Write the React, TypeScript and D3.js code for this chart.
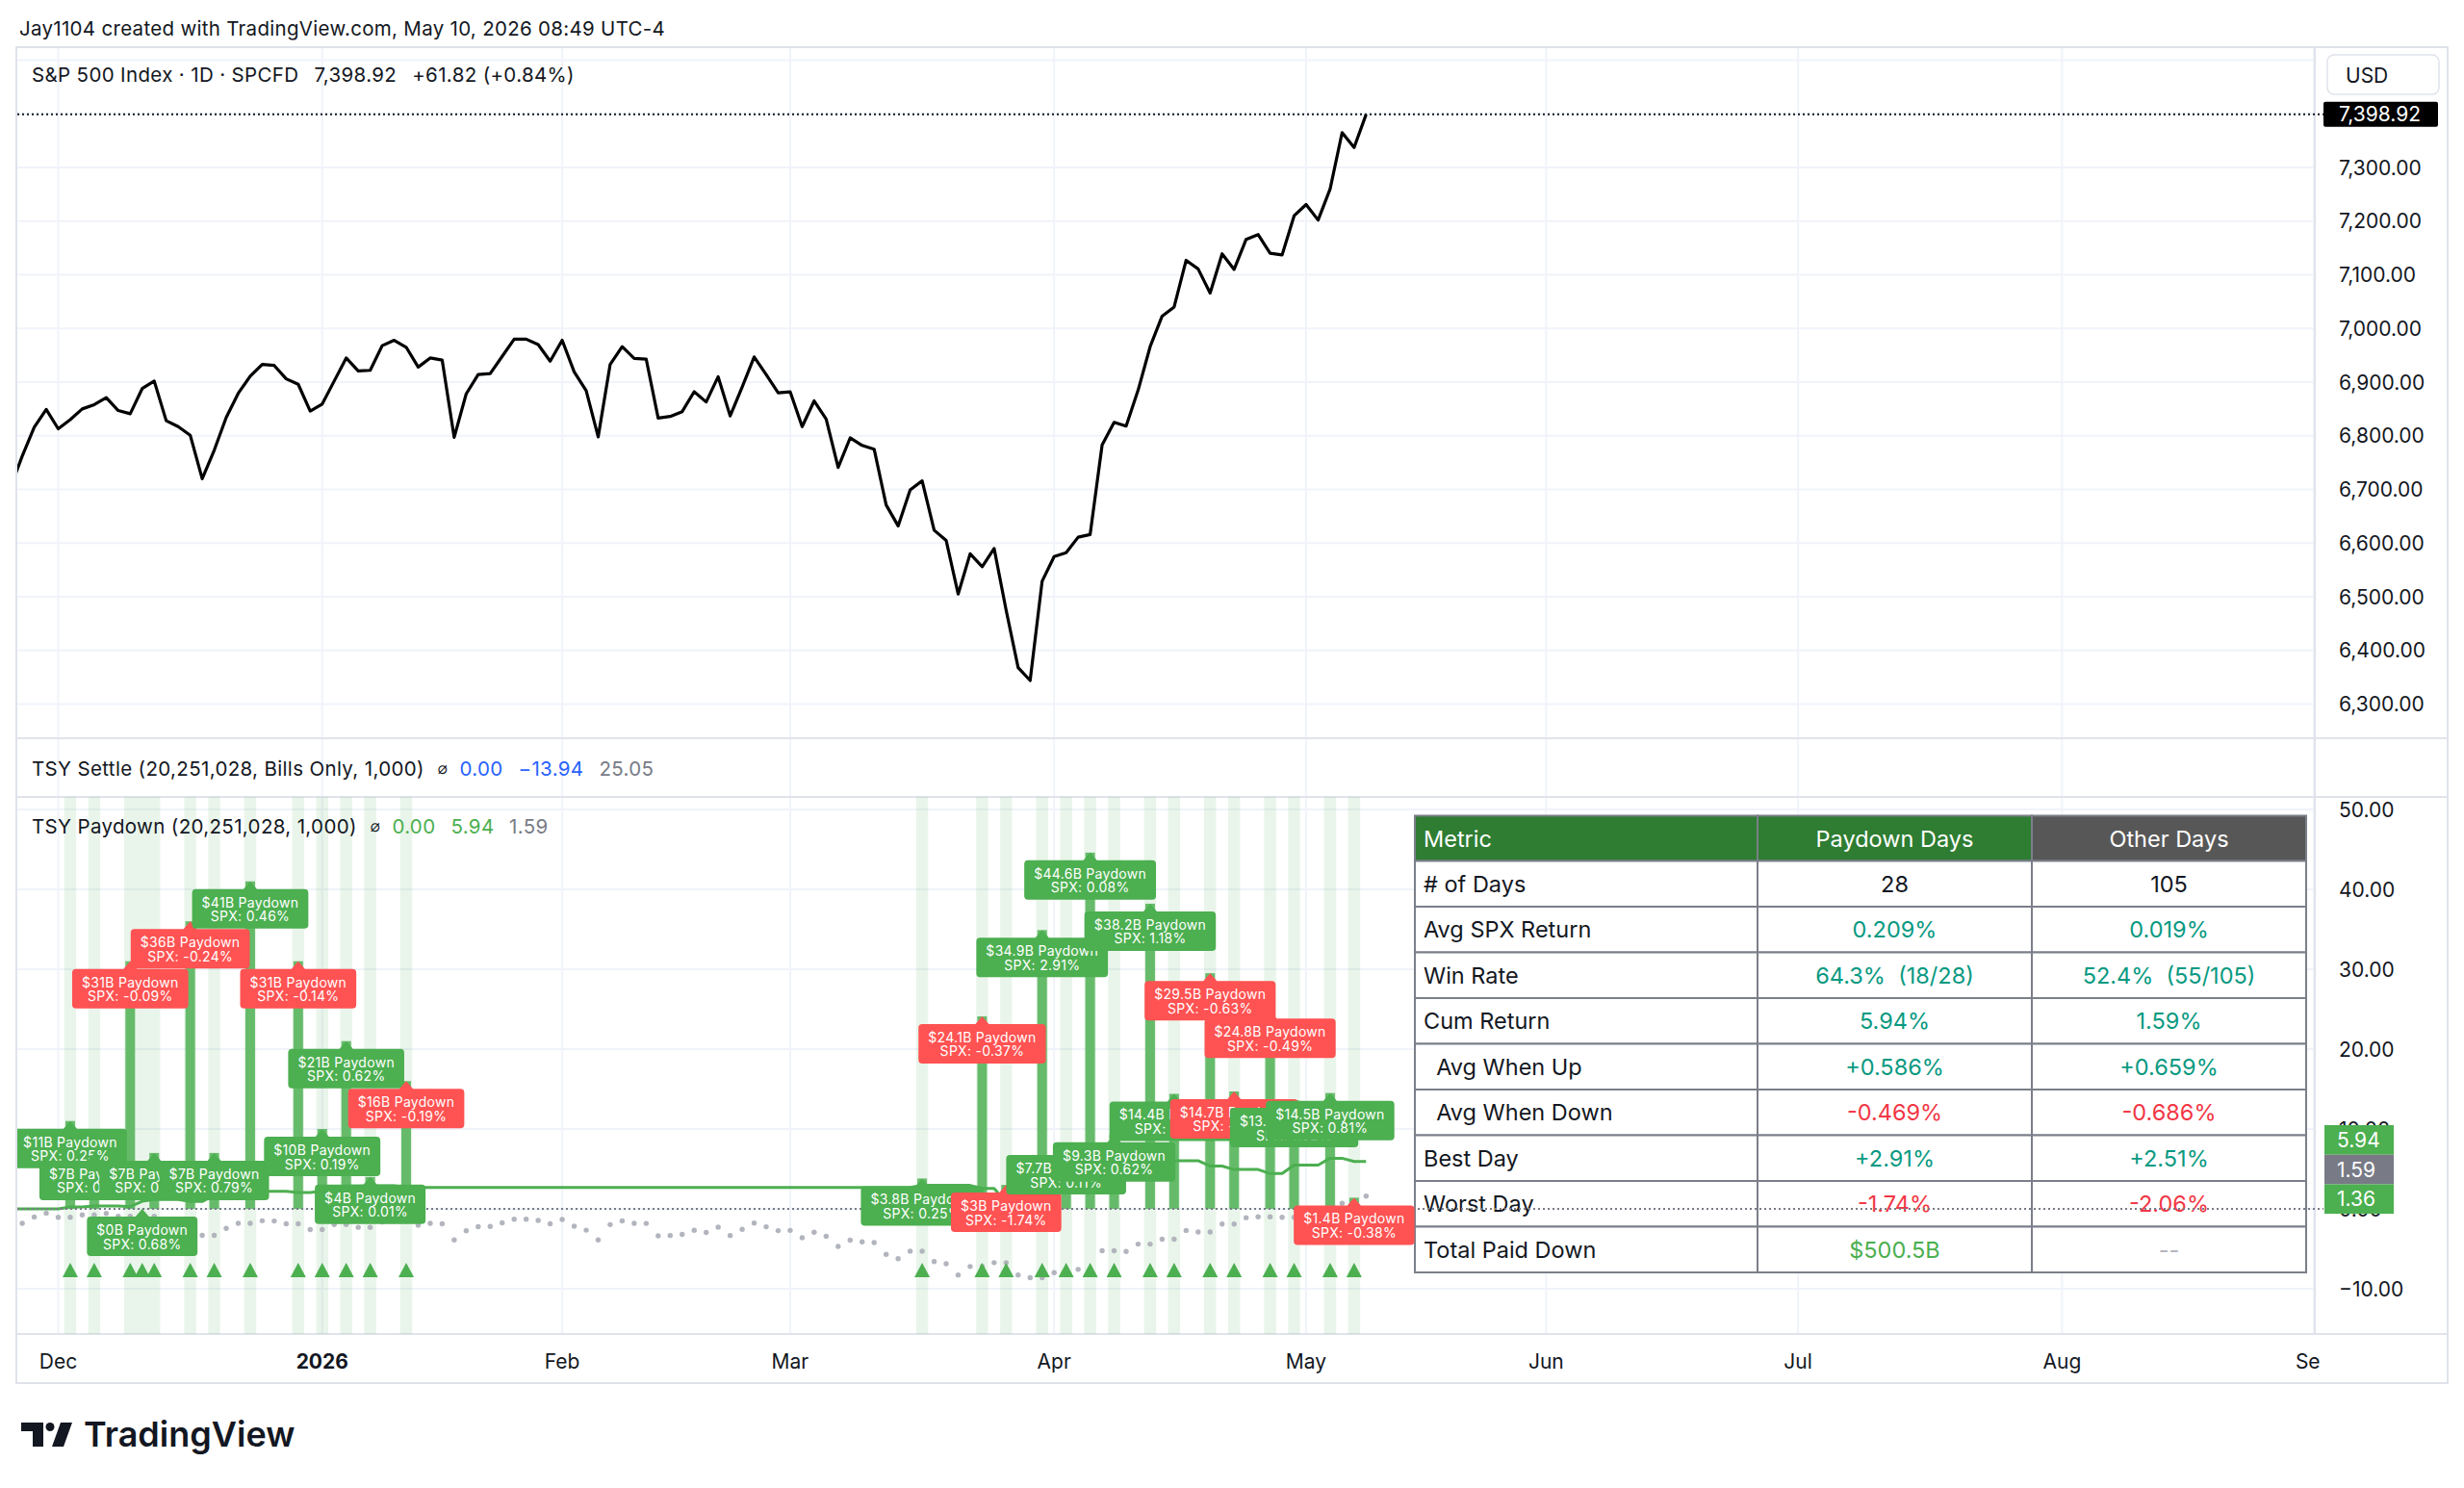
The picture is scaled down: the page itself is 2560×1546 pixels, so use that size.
import * as d3 from "d3";
import { useEffect, useRef } from "react";

const W = 2560;
const H = 1546;

// trading-day index: 0 = Dec 1 2025, first value is Nov 24 2025
const spxFirstBar = -4;
const spxClose = [
  6703, 6762, 6816, 6849,
  6813, 6830, 6850, 6858, 6871, 6847, 6841, 6888, 6902, 6828,
  6817, 6801, 6720, 6773, 6834, 6879, 6911, 6933, 6931, 6906,
  6896, 6846, 6859, 6902, 6945, 6921, 6922, 6968, 6978, 6965,
  6928, 6945, 6941, 6797, 6878, 6914, 6916, 6948, 6980, 6980,
  6970, 6939, 6978, 6919, 6884, 6798, 6933, 6966, 6944, 6943,
  6833, 6836, 6845, 6882, 6863, 6910, 6837, 6891, 6947, 6914,
  6880, 6882, 6817, 6865, 6831, 6741, 6796, 6782, 6775, 6671,
  6632, 6699, 6716, 6624, 6605, 6505, 6580, 6556, 6590, 6475,
  6368, 6344, 6529, 6575, 6582, 6611, 6616, 6783, 6825, 6818,
  6885, 6966, 7023, 7040, 7127, 7111, 7066, 7139, 7110, 7166,
  7175, 7140, 7137, 7210, 7231, 7202, 7260, 7365, 7337.1, 7398.92,
];

// cumulative SPX return (%) on non-paydown days, per bar
const otherCum = [
  -2.66, -1.8, -1.01, -0.53,
  -1.05, -1.05, -0.76, -0.76, -0.57, -0.92, -0.92, -0.92, -0.92, -1.98,
  -2.14, -2.14, -3.31, -3.31, -2.44, -1.8, -1.8, -1.49, -1.52, -1.87,
  -1.87, -2.59, -2.59, -1.97, -1.97, -2.31, -2.31, -1.66, -1.52, -1.52,
  -2.04, -1.8, -1.86, -3.89, -2.74, -2.23, -2.2, -1.75, -1.3, -1.3,
  -1.44, -1.87, -1.32, -2.16, -2.66, -3.88, -1.97, -1.5, -1.81, -1.82,
  -3.37, -3.33, -3.2, -2.68, -2.95, -2.29, -3.33, -2.56, -1.77, -2.24,
  -2.72, -2.69, -3.61, -2.93, -3.42, -4.7, -3.92, -4.12, -4.22, -5.69,
  -6.24, -5.29, -5.29, -6.59, -6.86, -8.27, -7.21, -7.21, -6.73, -6.73,
  -8.27, -8.62, -8.62, -7.98, -7.98, -7.57, -7.57, -5.24, -5.24, -5.34,
  -4.41, -4.41, -3.8, -3.8, -2.7, -2.9, -2.9, -1.9, -1.9, -1.1,
  -1.0, -1.0, -1.05, -1.05, -0.65, -0.95, -0.95, 0.7, 0.7, 1.59,
];

// paydown events
const paydownBars = [1, 3, 6, 7, 8, 11, 13, 16, 20, 22, 24, 26, 29, 72, 77, 79, 82, 84, 86, 88, 91, 93, 96, 98, 101, 103, 106, 108];
const paydownAmounts = [11, 7, 31, 0, 7, 36, 7, 41, 31, 10, 21, 4, 16, 3.8, 24.1, 3, 34.9, 7.7, 44.6, 9.3, 38.2, 14.4, 29.5, 14.7, 24.8, 13.6, 14.5, 1.4];
const paydownSpx = [0.25, 0.12, -0.09, 0.68, 0.2, -0.24, 0.79, 0.46, -0.14, 0.19, 0.62, 0.01, -0.19, 0.25, -0.37, -1.74, 2.91, 0.11, 0.08, 0.62, 1.18, 0.24, -0.63, -0.41, -0.49, 1.02, 0.81, -0.38];
// cumulative SPX return (%) on paydown days, after each event
const paydownCum = [0.25, 0.37, 0.28, 0.96, 1.16, 0.92, 1.72, 2.19, 2.05, 2.24, 2.87, 2.88, 2.68, 2.94, 2.56, 0.78, 3.71, 3.82, 3.9, 4.55, 5.78, 6.03, 5.36, 4.93, 4.42, 5.49, 6.34, 5.94];

const monthLabels = ["Dec", "2026", "Feb", "Mar", "Apr", "May", "Jun", "Jul", "Aug", "Sep"];
const monthBars = [0, 22, 42, 61, 83, 104, 124, 145, 167, 188];

const priceTicks = [6300, 6400, 6500, 6600, 6700, 6800, 6900, 7000, 7100, 7200, 7300];
const priceGrid = [6300, 6400, 6500, 6600, 6700, 6800, 6900, 7000, 7100, 7200, 7300, 7400, 7500];
const paydownTicks = [-10, 0, 10, 20, 30, 40, 50];

const tableHeader = ["Metric", "Paydown Days", "Other Days"];
const tableMetrics = ["# of Days", "Avg SPX Return", "Win Rate", "Cum Return", "  Avg When Up", "  Avg When Down", "Best Day", "Worst Day", "Total Paid Down"];
const tablePaydown = ["28", "0.209%", "64.3%  (18/28)", "5.94%", "+0.586%", "-0.469%", "+2.91%", "-1.74%", "$500.5B"];
const tableOther = ["105", "0.019%", "52.4%  (55/105)", "1.59%", "+0.659%", "-0.686%", "+2.51%", "-2.06%", "--"];
const tablePaydownColor = ["#131722", "#089981", "#089981", "#089981", "#089981", "#f23645", "#089981", "#f23645", "#4caf50"];
const tableOtherColor = ["#131722", "#089981", "#089981", "#089981", "#089981", "#f23645", "#089981", "#f23645", "#b2b5be"];

const lastPrice = 7398.92;
const axisBoxes = [
  { text: "5.94", color: "#4caf50" },
  { text: "1.59", color: "#787b86" },
  { text: "1.36", color: "#4caf50" },
];

const FONT = "Inter, 'Noto Sans', sans-serif";

function drawChart(el: SVGSVGElement) {
  const svg = d3.select(el);
  svg.selectAll("*").remove();

  const left = 18;
  const right = 2405;
  const topPane = [49, 767];
  const payPane = [828, 1386];

  const x = d3.scaleLinear().domain([0, 104]).range([60.5, 1357]);
  const yP = d3.scaleLinear().domain([6300, 7300]).range([731.5, 174]);
  const yD = d3.scaleLinear().domain([-10, 50]).range([1339, 841]);
  const bw = x(1) - x(0);

  svg.append("rect").attr("width", W).attr("height", H).attr("fill", "#fff");

  const defs = svg.append("defs");
  defs.append("clipPath").attr("id", "clipTop").append("rect")
    .attr("x", left).attr("y", topPane[0]).attr("width", right - left).attr("height", topPane[1] - topPane[0]);
  defs.append("clipPath").attr("id", "clipPay").append("rect")
    .attr("x", left).attr("y", payPane[0]).attr("width", right - left).attr("height", payPane[1] - payPane[0]);
  defs.append("clipPath").attr("id", "clipTime").append("rect")
    .attr("x", left).attr("y", payPane[1]).attr("width", right - left + 6).attr("height", 60);

  // header
  svg.append("text")
    .attr("x", 20).attr("y", 29).attr("dominant-baseline", "central")
    .attr("font-family", FONT).attr("font-size", 20.5).attr("letter-spacing", 0.3).attr("fill", "#131722")
    .text("Jay1104 created with TradingView.com, May 10, 2026 08:49 UTC-4");

  // grid
  const grid = svg.append("g").attr("stroke", "#f0f3fa").attr("stroke-width", 2);
  grid.selectAll("line.v").data(monthBars).join("line")
    .attr("x1", d => x(d)).attr("x2", d => x(d)).attr("y1", topPane[0]).attr("y2", payPane[1])
    .attr("clip-path", "url(#clipTop)");
  grid.selectAll("line.v2").data(monthBars).join("line")
    .attr("x1", d => x(d)).attr("x2", d => x(d)).attr("y1", topPane[1]).attr("y2", payPane[1]);
  grid.selectAll("line.hp").data(priceGrid).join("line")
    .attr("x1", left).attr("x2", right).attr("y1", d => yP(d)).attr("y2", d => yP(d));
  grid.selectAll("line.hd").data(paydownTicks).join("line")
    .attr("x1", left).attr("x2", right).attr("y1", d => yD(d)).attr("y2", d => yD(d));

  // frame and pane separators
  const frame = svg.append("g").attr("stroke", "#e0e3eb").attr("fill", "none").attr("stroke-width", 2);
  frame.append("rect").attr("x", 17).attr("y", 49).attr("width", 2543 - 17).attr("height", 1437 - 49);
  frame.append("line").attr("x1", right).attr("x2", right).attr("y1", 49).attr("y2", payPane[1]);
  [767, 828, payPane[1]].forEach(y => {
    frame.append("line").attr("x1", 17).attr("x2", 2543).attr("y1", y).attr("y2", y);
  });

  // ---- top pane: S&P 500
  const top = svg.append("g").attr("clip-path", "url(#clipTop)");
  const priceLine = d3.line<number>()
    .x((_, k) => x(spxFirstBar + k))
    .y(d => yP(d));
  top.append("path")
    .attr("d", priceLine(spxClose))
    .attr("fill", "none").attr("stroke", "#000").attr("stroke-width", 3.2)
    .attr("stroke-linejoin", "round");
  svg.append("line")
    .attr("x1", left).attr("x2", 2414).attr("y1", yP(lastPrice)).attr("y2", yP(lastPrice))
    .attr("stroke", "#131722").attr("stroke-width", 2).attr("stroke-dasharray", "2 3");

  svg.append("text")
    .attr("x", 33).attr("y", 77).attr("dominant-baseline", "central")
    .attr("font-family", FONT).attr("font-size", 20.5).attr("letter-spacing", 0.35).attr("fill", "#131722")
    .call(t => {
      t.append("tspan").text("S&P 500 Index · 1D · SPCFD");
      t.append("tspan").attr("dx", 16).text("7,398.92");
      t.append("tspan").attr("dx", 16).text("+61.82 (+0.84%)");
    });

  // ---- settle pane legend
  svg.append("text")
    .attr("x", 33).attr("y", 798).attr("dominant-baseline", "central")
    .attr("font-family", FONT).attr("font-size", 20.5).attr("letter-spacing", 0.35).attr("fill", "#131722")
    .call(t => {
      t.append("tspan").text("TSY Settle (20,251,028, Bills Only, 1,000)");
      t.append("tspan").attr("dx", 14).attr("font-family", "DejaVu Sans").attr("font-size", 17).text("⌀");
      t.append("tspan").attr("dx", 12).attr("fill", "#2962ff").text("0.00");
      t.append("tspan").attr("dx", 16).attr("fill", "#2962ff").text("−13.94");
      t.append("tspan").attr("dx", 16).attr("fill", "#787b86").text("25.05");
    });

  // ---- paydown pane
  const pay = svg.append("g").attr("clip-path", "url(#clipPay)");
  pay.selectAll("rect.band").data(paydownBars).join("rect")
    .attr("x", d => x(d) - bw / 2).attr("width", bw)
    .attr("y", payPane[0]).attr("height", payPane[1] - payPane[0])
    .attr("fill", "rgba(76,175,80,0.12)");

  pay.selectAll("rect.col").data(paydownBars).join("rect")
    .attr("x", d => x(d) - 5).attr("width", 10)
    .attr("y", (_, k) => yD(paydownAmounts[k]))
    .attr("height", (_, k) => yD(0) - yD(paydownAmounts[k]))
    .attr("fill", "#66bb6a");

  const bars = d3.range(spxFirstBar, spxFirstBar + spxClose.length);
  const cumLine = bars.map(b => {
    const k = d3.bisectRight(paydownBars, b) - 1;
    return k < 0 ? 0 : paydownCum[k];
  });
  pay.append("path")
    .attr("d", d3.line<number>().x((_, k) => x(bars[k])).y(d => yD(d))(cumLine))
    .attr("fill", "none").attr("stroke", "#4caf50").attr("stroke-width", 3)
    .attr("stroke-linejoin", "round");

  pay.selectAll("circle.other").data(otherCum).join("circle")
    .attr("cx", (_, k) => x(bars[k])).attr("cy", d => yD(d)).attr("r", 2.7)
    .attr("fill", "#b2b5be");

  pay.selectAll("path.tri").data(paydownBars).join("path")
    .attr("d", d => `M${x(d) - 8},1327 L${x(d)},1312 L${x(d) + 8},1327 Z`)
    .attr("fill", "#4caf50");

  // table
  const tbl = svg.append("g").attr("font-family", FONT).attr("font-size", 23.5);
  const colX = [1470, 1826, 2111, 2396];
  const tTop = 847.5;
  const headH = 47;
  const rowH = 47.5;
  const headFill = ["#2e7d32", "#2e7d32", "#575757"];
  tableHeader.forEach((h, c) => {
    tbl.append("rect").attr("x", colX[c]).attr("y", tTop).attr("width", colX[c + 1] - colX[c]).attr("height", headH)
      .attr("fill", headFill[c]).attr("stroke", "#7b7f89").attr("stroke-width", 2);
    tbl.append("text")
      .attr("x", c === 0 ? colX[0] + 9 : (colX[c] + colX[c + 1]) / 2)
      .attr("y", tTop + headH / 2).attr("dominant-baseline", "central")
      .attr("text-anchor", c === 0 ? "start" : "middle")
      .attr("fill", "#fff").text(h);
  });
  tableMetrics.forEach((m, r) => {
    const y0 = tTop + headH + r * rowH;
    const cells = [m, tablePaydown[r], tableOther[r]];
    const colors = ["#131722", tablePaydownColor[r], tableOtherColor[r]];
    cells.forEach((txt, c) => {
      tbl.append("rect").attr("x", colX[c]).attr("y", y0).attr("width", colX[c + 1] - colX[c]).attr("height", rowH)
        .attr("fill", "#fff").attr("stroke", "#7b7f89").attr("stroke-width", 2);
      tbl.append("text")
        .attr("x", c === 0 ? colX[0] + 9 : (colX[c] + colX[c + 1]) / 2)
        .attr("y", y0 + rowH / 2).attr("dominant-baseline", "central")
        .attr("text-anchor", c === 0 ? "start" : "middle")
        .style("white-space", "pre")
        .attr("fill", colors[c]).text(txt);
    });
  });

  // zero price line of the paydown pane
  svg.append("line")
    .attr("x1", left).attr("x2", 2414).attr("y1", yD(0)).attr("y2", yD(0))
    .attr("stroke", "#787b86").attr("stroke-width", 2).attr("stroke-dasharray", "2 3");

  // paydown labels
  const lab = svg.append("g").attr("clip-path", "url(#clipPay)")
    .attr("font-family", FONT).attr("font-size", 14);
  paydownBars.forEach((b, k) => {
    const g = lab.append("g").attr("transform", `translate(${x(b)},${yD(paydownAmounts[k])})`);
    const color = paydownSpx[k] >= 0 ? "#4caf50" : "#ff5252";
    const shape = g.append("path").attr("fill", color);
    const t1 = g.append("text").attr("y", 21.5).attr("text-anchor", "middle").attr("dominant-baseline", "central")
      .attr("fill", "#fff").attr("letter-spacing", 0.3).text(`$${paydownAmounts[k]}B Paydown`);
    const t2 = g.append("text").attr("y", 36).attr("text-anchor", "middle").attr("dominant-baseline", "central")
      .attr("fill", "#fff").attr("letter-spacing", 0.3).text(`SPX: ${paydownSpx[k].toFixed(2)}%`);
    const tw = Math.max(t1.node()!.getComputedTextLength(), t2.node()!.getComputedTextLength());
    const hw = tw / 2 + 10;
    const r = 4;
    shape.attr("d",
      `M${-hw + r},8 H-7 L0,0 L7,8 H${hw - r} Q${hw},8 ${hw},${8 + r} V${49 - r} Q${hw},49 ${hw - r},49 ` +
      `H${-hw + r} Q${-hw},49 ${-hw},${49 - r} V${8 + r} Q${-hw},8 ${-hw + r},8 Z`);
  });

  svg.append("text")
    .attr("x", 33).attr("y", 858).attr("dominant-baseline", "central")
    .attr("font-family", FONT).attr("font-size", 20.5).attr("letter-spacing", 0.35).attr("fill", "#131722")
    .call(t => {
      t.append("tspan").text("TSY Paydown (20,251,028, 1,000)");
      t.append("tspan").attr("dx", 14).attr("font-family", "DejaVu Sans").attr("font-size", 17).text("⌀");
      t.append("tspan").attr("dx", 12).attr("fill", "#4caf50").text("0.00");
      t.append("tspan").attr("dx", 16).attr("fill", "#4caf50").text("5.94");
      t.append("tspan").attr("dx", 16).attr("fill", "#787b86").text("1.59");
    });

  // ---- right price axis
  const ax = svg.append("g").attr("font-family", FONT).attr("font-size", 21).attr("fill", "#131722");
  ax.append("rect").attr("x", 2418).attr("y", 57).attr("width", 116).attr("height", 41).attr("rx", 7)
    .attr("fill", "#fff").attr("stroke", "#e0e3eb").attr("stroke-width", 1.5);
  ax.append("text").attr("x", 2437).attr("y", 78).attr("dominant-baseline", "central").text("USD");
  ax.selectAll("text.p").data(priceTicks).join("text")
    .attr("x", 2430).attr("y", d => yP(d)).attr("dominant-baseline", "central")
    .text(d => d3.format(",.2f")(d));
  ax.append("rect").attr("x", 2414).attr("y", yP(lastPrice) - 13).attr("width", 119).attr("height", 26)
    .attr("rx", 2).attr("fill", "#000");
  ax.append("text").attr("x", 2430).attr("y", yP(lastPrice)).attr("dominant-baseline", "central")
    .attr("fill", "#fff").text(d3.format(",.2f")(lastPrice));

  ax.selectAll("text.d").data(paydownTicks).join("text")
    .attr("x", 2430).attr("y", d => yD(d)).attr("dominant-baseline", "central")
    .text(d => (d < 0 ? "−" : "") + d3.format(".2f")(Math.abs(d)));
  axisBoxes.forEach((bx, k) => {
    const y0 = 1169 + k * 30.7;
    ax.append("rect").attr("x", 2415).attr("y", y0).attr("width", 72).attr("height", 30.7).attr("fill", bx.color);
    ax.append("text").attr("x", 2428).attr("y", y0 + 15.4).attr("dominant-baseline", "central")
      .attr("fill", "#fff").text(bx.text);
  });

  // ---- time axis
  svg.append("g").attr("clip-path", "url(#clipTime)")
    .attr("font-family", FONT).attr("font-size", 21).attr("fill", "#131722")
    .selectAll("text").data(monthLabels).join("text")
    .attr("x", (_, k) => x(monthBars[k])).attr("y", 1414)
    .attr("text-anchor", "middle").attr("dominant-baseline", "central")
    .attr("font-weight", d => (d === "2026" ? 700 : 400))
    .text(d => d);

  // ---- logo
  const logo = svg.append("g").attr("fill", "#131722");
  logo.append("path").attr("d", "M22,1478 H45 V1503 H34 V1487 H22 Z");
  logo.append("circle").attr("cx", 52).attr("cy", 1482.5).attr("r", 4.5);
  logo.append("path").attr("d", "M63,1478 H75 L66,1503 H54 Z");
  logo.append("text").attr("x", 87).attr("y", 1503)
    .attr("font-family", FONT).attr("font-size", 36).attr("font-weight", 600)
    .text("TradingView");
}

export default function App() {
  const ref = useRef<SVGSVGElement>(null);
  useEffect(() => {
    if (ref.current) drawChart(ref.current);
  }, []);
  return (
    <svg
      ref={ref}
      width={W}
      height={H}
      style={{ position: "absolute", left: 0, top: 0, display: "block" }}
    />
  );
}
